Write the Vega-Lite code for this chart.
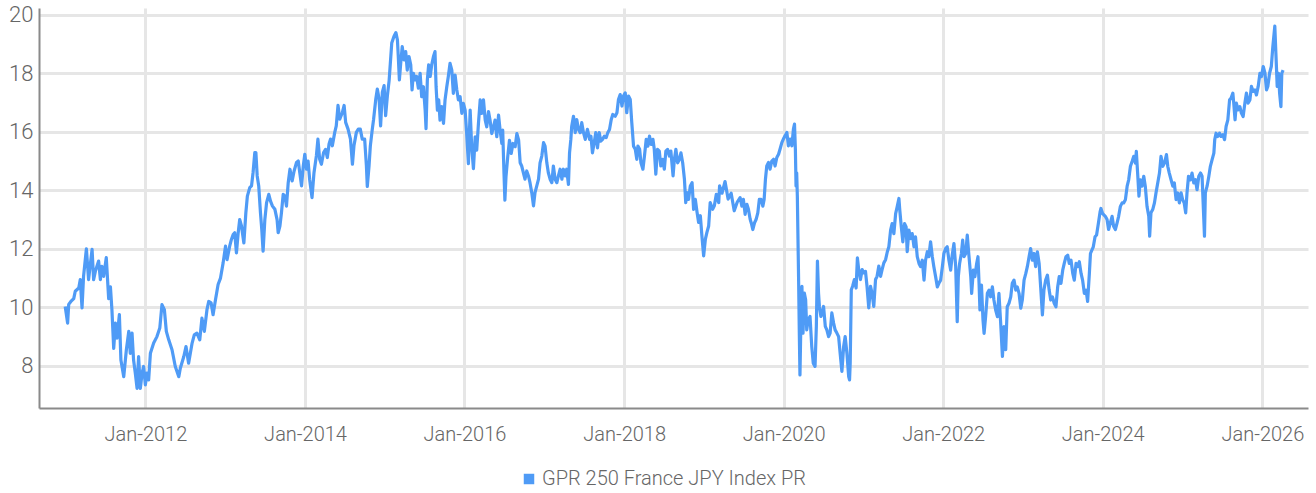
{
"$schema": "https://vega.github.io/schema/vega-lite/v6.json",
"width": 1269,
"height": 400,
"autosize": {"type": "none"},
"padding": {"left": 39, "top": 8, "right": 8, "bottom": 85},
"background": "white",
"config": {"view": {"stroke": null}, "font": "Roboto"},
"data": {"values": [
{"date":"2010-12-30","value":10.03},{"date":"2011-01-10","value":9.46},{"date":"2011-01-15","value":10.1},{"date":"2011-01-25","value":10.2},{"date":"2011-02-07","value":10.3},{"date":"2011-02-14","value":10.55},{"date":"2011-03-02","value":10.66},{"date":"2011-03-09","value":10.95},{"date":"2011-03-17","value":9.98},{"date":"2011-03-24","value":11.06},{"date":"2011-04-06","value":12.0},{"date":"2011-04-16","value":10.95},{"date":"2011-05-02","value":11.98},{"date":"2011-05-09","value":10.95},{"date":"2011-05-17","value":11.23},{"date":"2011-06-01","value":11.58},{"date":"2011-06-09","value":10.95},{"date":"2011-06-16","value":11.4},{"date":"2011-06-24","value":11.06},{"date":"2011-07-06","value":11.7},{"date":"2011-07-17","value":10.3},{"date":"2011-07-25","value":10.7},{"date":"2011-08-01","value":9.9},{"date":"2011-08-09","value":8.6},{"date":"2011-08-17","value":9.46},{"date":"2011-08-24","value":8.95},{"date":"2011-09-04","value":9.75},{"date":"2011-09-11","value":8.2},{"date":"2011-09-24","value":7.63},{"date":"2011-10-06","value":8.55},{"date":"2011-10-17","value":9.18},{"date":"2011-10-24","value":8.43},{"date":"2011-11-01","value":9.12},{"date":"2011-11-08","value":8.2},{"date":"2011-11-16","value":7.75},{"date":"2011-11-24","value":7.23},{"date":"2011-12-01","value":8.32},{"date":"2011-12-09","value":7.23},{"date":"2011-12-17","value":7.75},{"date":"2011-12-24","value":7.98},{"date":"2012-01-01","value":7.35},{"date":"2012-01-08","value":7.75},{"date":"2012-01-16","value":7.52},{"date":"2012-01-24","value":8.43},{"date":"2012-02-08","value":8.78},{"date":"2012-02-23","value":9.0},{"date":"2012-03-07","value":9.29},{"date":"2012-03-17","value":10.09},{"date":"2012-03-28","value":9.92},{"date":"2012-04-06","value":9.18},{"date":"2012-04-17","value":8.89},{"date":"2012-05-02","value":8.55},{"date":"2012-05-17","value":7.98},{"date":"2012-06-02","value":7.63},{"date":"2012-06-09","value":7.92},{"date":"2012-06-25","value":8.32},{"date":"2012-07-05","value":8.66},{"date":"2012-07-17","value":8.09},{"date":"2012-08-02","value":8.78},{"date":"2012-08-12","value":9.06},{"date":"2012-08-24","value":9.12},{"date":"2012-09-06","value":8.89},{"date":"2012-09-16","value":9.63},{"date":"2012-09-27","value":9.18},{"date":"2012-10-09","value":9.92},{"date":"2012-10-17","value":10.2},{"date":"2012-10-28","value":10.15},{"date":"2012-11-06","value":9.75},{"date":"2012-11-17","value":10.26},{"date":"2012-11-29","value":10.78},{"date":"2012-12-10","value":11.0},{"date":"2012-12-22","value":11.52},{"date":"2013-01-02","value":12.09},
{"date":"2013-01-09","value":11.63},{"date":"2013-01-21","value":12.09},{"date":"2013-01-29","value":12.32},{"date":"2013-02-06","value":12.49},{"date":"2013-02-13","value":12.55},{"date":"2013-02-21","value":11.86},{"date":"2013-03-01","value":12.55},{"date":"2013-03-08","value":13.0},{"date":"2013-03-16","value":12.78},{"date":"2013-03-27","value":12.2},{"date":"2013-04-05","value":13.23},{"date":"2013-04-12","value":13.8},{"date":"2013-04-23","value":14.09},{"date":"2013-05-01","value":14.15},{"date":"2013-05-08","value":14.6},{"date":"2013-05-16","value":15.29},{"date":"2013-05-21","value":15.29},{"date":"2013-05-27","value":14.49},{"date":"2013-06-03","value":14.15},{"date":"2013-06-11","value":13.23},{"date":"2013-06-17","value":12.66},{"date":"2013-06-23","value":11.92},{"date":"2013-07-01","value":13.0},{"date":"2013-07-09","value":13.58},{"date":"2013-07-19","value":13.86},{"date":"2013-07-27","value":13.63},{"date":"2013-08-05","value":13.46},{"date":"2013-08-16","value":13.35},{"date":"2013-08-26","value":13.0},{"date":"2013-08-31","value":12.55},{"date":"2013-09-08","value":12.78},{"date":"2013-09-15","value":13.23},{"date":"2013-09-23","value":13.86},{"date":"2013-10-01","value":13.8},{"date":"2013-10-08","value":13.46},{"date":"2013-10-16","value":14.26},{"date":"2013-10-24","value":14.72},{"date":"2013-11-03","value":14.32},{"date":"2013-11-12","value":14.66},{"date":"2013-11-23","value":14.95},{"date":"2013-12-01","value":15.0},{"date":"2013-12-08","value":14.6},{"date":"2013-12-16","value":14.15},{"date":"2013-12-24","value":14.83},{"date":"2013-12-31","value":15.23},{"date":"2014-01-08","value":14.72},{"date":"2014-01-15","value":15.0},{"date":"2014-01-22","value":14.38},{"date":"2014-02-02","value":13.75},{"date":"2014-02-11","value":14.6},{"date":"2014-02-22","value":15.18},{"date":"2014-03-01","value":15.75},{"date":"2014-03-09","value":15.06},{"date":"2014-03-17","value":14.89},{"date":"2014-03-27","value":15.29},{"date":"2014-04-05","value":15.4},{"date":"2014-04-13","value":15.12},{"date":"2014-04-21","value":15.58},{"date":"2014-04-28","value":15.75},{"date":"2014-05-06","value":15.52},{"date":"2014-05-17","value":15.98},{"date":"2014-05-24","value":16.2},{"date":"2014-06-01","value":16.9},{"date":"2014-06-09","value":16.43},{"date":"2014-06-21","value":16.66},{"date":"2014-06-29","value":16.9},{"date":"2014-07-06","value":16.32},{"date":"2014-07-17","value":16.09},{"date":"2014-07-28","value":15.75},{"date":"2014-08-06","value":14.89},{"date":"2014-08-13","value":15.52},{"date":"2014-08-24","value":15.98},{"date":"2014-09-02","value":16.09},{"date":"2014-09-11","value":16.09},{"date":"2014-09-20","value":15.75},{"date":"2014-10-01","value":15.75},{"date":"2014-10-09","value":14.83},{"date":"2014-10-13","value":14.13},{"date":"2014-10-21","value":14.83},{"date":"2014-10-27","value":15.52},{"date":"2014-11-05","value":16.09},{"date":"2014-11-11","value":16.43},{"date":"2014-11-21","value":17.12},{"date":"2014-11-28","value":17.46},{"date":"2014-12-06","value":17.12},{"date":"2014-12-13","value":16.2},{"date":"2014-12-21","value":17.35},{"date":"2014-12-29","value":17.58},{"date":"2015-01-05","value":16.55},{"date":"2015-01-13","value":17.23},{"date":"2015-01-21","value":17.75},
{"date":"2015-02-02","value":19.03},{"date":"2015-02-12","value":19.26},{"date":"2015-02-21","value":19.39},{"date":"2015-02-28","value":19.14},{"date":"2015-03-04","value":18.57},{"date":"2015-03-09","value":17.77},{"date":"2015-03-15","value":18.34},{"date":"2015-03-22","value":18.91},{"date":"2015-03-30","value":18.46},{"date":"2015-04-07","value":18.74},{"date":"2015-04-14","value":18.11},{"date":"2015-04-22","value":18.57},{"date":"2015-04-30","value":18.29},{"date":"2015-05-06","value":17.43},{"date":"2015-05-12","value":18.0},{"date":"2015-05-20","value":17.77},{"date":"2015-05-27","value":17.89},{"date":"2015-06-04","value":17.49},{"date":"2015-06-12","value":18.0},{"date":"2015-06-19","value":17.2},{"date":"2015-06-27","value":17.54},{"date":"2015-07-05","value":16.74},{"date":"2015-07-09","value":16.11},{"date":"2015-07-15","value":17.77},{"date":"2015-07-21","value":18.29},{"date":"2015-07-28","value":17.89},{"date":"2015-08-04","value":18.29},{"date":"2015-08-12","value":18.57},{"date":"2015-08-19","value":18.74},{"date":"2015-08-24","value":17.54},{"date":"2015-08-30","value":16.74},{"date":"2015-09-05","value":17.09},{"date":"2015-09-11","value":16.4},{"date":"2015-09-19","value":16.86},{"date":"2015-09-27","value":16.29},{"date":"2015-10-04","value":17.09},{"date":"2015-10-12","value":17.54},{"date":"2015-10-19","value":17.89},{"date":"2015-10-27","value":18.34},{"date":"2015-11-04","value":18.11},{"date":"2015-11-11","value":17.31},{"date":"2015-11-19","value":17.94},{"date":"2015-11-27","value":17.43},{"date":"2015-12-04","value":17.09},{"date":"2015-12-12","value":17.2},{"date":"2015-12-20","value":16.63},{"date":"2015-12-27","value":16.97},{"date":"2016-01-04","value":16.74},{"date":"2016-01-11","value":15.94},{"date":"2016-01-19","value":14.91},{"date":"2016-01-27","value":16.74},{"date":"2016-02-03","value":15.49},{"date":"2016-02-11","value":14.74},{"date":"2016-02-19","value":15.83},{"date":"2016-02-26","value":15.37},{"date":"2016-03-05","value":16.29},{"date":"2016-03-13","value":17.09},{"date":"2016-03-20","value":16.63},{"date":"2016-03-28","value":17.09},{"date":"2016-04-05","value":16.4},{"date":"2016-04-12","value":16.17},{"date":"2016-04-20","value":16.69},{"date":"2016-04-27","value":16.4},{"date":"2016-05-05","value":15.94},{"date":"2016-05-13","value":16.17},{"date":"2016-05-20","value":16.4},{"date":"2016-05-28","value":15.83},{"date":"2016-06-05","value":16.57},{"date":"2016-06-12","value":16.06},{"date":"2016-06-20","value":15.6},{"date":"2016-06-24","value":16.06},{"date":"2016-06-30","value":14.57},{"date":"2016-07-04","value":13.66},{"date":"2016-07-09","value":14.46},{"date":"2016-07-17","value":15.14},{"date":"2016-07-25","value":15.71},{"date":"2016-08-02","value":15.26},{"date":"2016-08-10","value":15.6},{"date":"2016-08-20","value":15.49},{"date":"2016-08-28","value":15.94},{"date":"2016-09-05","value":15.71},
{"date":"2016-09-12","value":14.94},{"date":"2016-09-19","value":14.83},{"date":"2016-10-04","value":14.38},{"date":"2016-10-12","value":14.66},{"date":"2016-10-20","value":14.49},{"date":"2016-10-27","value":14.26},{"date":"2016-11-04","value":13.92},{"date":"2016-11-12","value":13.47},{"date":"2016-11-19","value":13.92},{"date":"2016-11-27","value":14.15},{"date":"2016-12-05","value":14.38},{"date":"2016-12-12","value":14.94},{"date":"2016-12-20","value":15.17},{"date":"2016-12-28","value":15.63},{"date":"2017-01-04","value":15.51},{"date":"2017-01-12","value":14.94},{"date":"2017-01-19","value":14.6},{"date":"2017-01-27","value":14.38},{"date":"2017-02-04","value":14.26},{"date":"2017-02-11","value":14.83},{"date":"2017-02-19","value":14.38},{"date":"2017-02-27","value":14.26},{"date":"2017-03-06","value":14.49},{"date":"2017-03-14","value":14.72},{"date":"2017-03-22","value":14.38},{"date":"2017-03-29","value":14.72},{"date":"2017-04-06","value":14.49},{"date":"2017-04-13","value":14.72},{"date":"2017-04-21","value":14.2},{"date":"2017-04-26","value":15.28},{"date":"2017-05-02","value":15.74},{"date":"2017-05-06","value":16.19},{"date":"2017-05-14","value":16.53},{"date":"2017-05-22","value":15.97},{"date":"2017-05-29","value":16.42},{"date":"2017-06-06","value":16.08},{"date":"2017-06-14","value":15.97},{"date":"2017-06-21","value":16.31},{"date":"2017-06-29","value":15.97},{"date":"2017-07-07","value":15.74},{"date":"2017-07-17","value":16.08},{"date":"2017-07-27","value":15.74},{"date":"2017-08-02","value":15.85},{"date":"2017-08-09","value":15.28},{"date":"2017-08-17","value":15.63},{"date":"2017-08-24","value":15.97},{"date":"2017-09-01","value":15.45},{"date":"2017-09-09","value":15.97},{"date":"2017-09-16","value":15.68},{"date":"2017-09-24","value":15.74},{"date":"2017-10-02","value":15.85},{"date":"2017-10-11","value":15.8},{"date":"2017-10-18","value":15.97},{"date":"2017-10-26","value":16.08},{"date":"2017-11-03","value":16.42},{"date":"2017-11-10","value":16.59},{"date":"2017-11-21","value":16.53},{"date":"2017-11-29","value":16.65},{"date":"2017-12-06","value":17.1},{"date":"2017-12-14","value":17.27},{"date":"2017-12-22","value":16.88},{"date":"2017-12-29","value":17.22},{"date":"2018-01-06","value":17.33},{"date":"2018-01-13","value":16.65},{"date":"2018-01-21","value":17.22},{"date":"2018-01-29","value":17.1},{"date":"2018-02-05","value":16.31},{"date":"2018-02-13","value":15.51},{"date":"2018-02-21","value":15.4},{"date":"2018-02-28","value":15.06},{"date":"2018-03-05","value":15.51},{"date":"2018-03-13","value":15.4},{"date":"2018-03-19","value":14.94},{"date":"2018-03-28","value":14.72},{"date":"2018-04-04","value":15.17},{"date":"2018-04-12","value":15.74},{"date":"2018-04-20","value":15.51},{"date":"2018-04-27","value":15.85},{"date":"2018-05-05","value":15.57},{"date":"2018-05-13","value":15.74},{"date":"2018-05-19","value":15.4},{"date":"2018-05-26","value":14.55},{"date":"2018-06-03","value":15.4},{"date":"2018-06-11","value":15.34},{"date":"2018-06-18","value":14.83},{"date":"2018-06-26","value":15.06},{"date":"2018-07-04","value":14.72},{"date":"2018-07-11","value":15.34},{"date":"2018-07-19","value":15.4},{"date":"2018-07-27","value":15.17},{"date":"2018-08-03","value":15.34},{"date":"2018-08-13","value":14.49},{"date":"2018-08-19","value":15.06},{"date":"2018-08-26","value":15.4},{"date":"2018-09-03","value":14.94},{"date":"2018-09-11","value":15.06},{"date":"2018-09-18","value":15.28},{"date":"2018-09-26","value":14.94},{"date":"2018-10-04","value":14.38},{"date":"2018-10-10","value":13.58},{"date":"2018-10-16","value":13.92},{"date":"2018-10-23","value":13.69},{"date":"2018-10-31","value":14.15},{"date":"2018-11-08","value":14.26},{"date":"2018-11-15","value":13.35},{"date":"2018-11-23","value":13.69},{"date":"2018-12-01","value":13.24},{"date":"2018-12-08","value":12.9},{"date":"2018-12-16","value":13.13},{"date":"2018-12-23","value":12.44},{"date":"2018-12-31","value":11.76},{"date":"2019-01-08","value":12.33},{"date":"2019-01-15","value":12.56},{"date":"2019-01-23","value":12.78},{"date":"2019-01-30","value":13.58},{"date":"2019-02-10","value":13.35},{"date":"2019-02-18","value":13.47},{"date":"2019-02-27","value":13.86},{"date":"2019-03-10","value":13.58},{"date":"2019-03-14","value":14.15},{"date":"2019-03-25","value":13.9},{"date":"2019-04-08","value":14.3},{"date":"2019-04-22","value":13.7},{"date":"2019-05-06","value":13.9},{"date":"2019-05-20","value":13.3},{"date":"2019-06-03","value":13.6},
{"date":"2019-06-16","value":13.75},{"date":"2019-06-24","value":13.46},{"date":"2019-07-01","value":13.69},{"date":"2019-07-09","value":13.18},{"date":"2019-07-17","value":13.52},{"date":"2019-07-24","value":13.35},{"date":"2019-08-01","value":13.01},{"date":"2019-08-08","value":12.83},{"date":"2019-08-13","value":12.66},{"date":"2019-08-21","value":12.89},{"date":"2019-08-28","value":13.0},{"date":"2019-09-05","value":13.23},{"date":"2019-09-12","value":13.69},{"date":"2019-09-20","value":13.69},{"date":"2019-09-28","value":13.46},{"date":"2019-10-04","value":13.69},{"date":"2019-10-10","value":14.38},{"date":"2019-10-16","value":14.83},{"date":"2019-10-24","value":14.95},{"date":"2019-10-31","value":14.72},{"date":"2019-11-08","value":15.0},{"date":"2019-11-16","value":15.06},{"date":"2019-11-23","value":14.83},{"date":"2019-12-01","value":15.12},{"date":"2019-12-09","value":15.23},{"date":"2019-12-16","value":15.41},{"date":"2019-12-24","value":15.63},{"date":"2019-12-31","value":15.75},{"date":"2020-01-08","value":15.86},{"date":"2020-01-16","value":15.98},{"date":"2020-01-23","value":15.52},{"date":"2020-01-31","value":15.75},{"date":"2020-02-08","value":15.52},{"date":"2020-02-15","value":16.09},{"date":"2020-02-20","value":16.26},{"date":"2020-02-24","value":15.41},{"date":"2020-02-27","value":14.15},{"date":"2020-03-01","value":14.6},{"date":"2020-03-04","value":13.8},{"date":"2020-03-10","value":10.83},{"date":"2020-03-13","value":9.12},{"date":"2020-03-16","value":7.69},{"date":"2020-03-21","value":9.8},{"date":"2020-03-25","value":10.72},{"date":"2020-03-30","value":9.12},{"date":"2020-04-05","value":10.49},{"date":"2020-04-11","value":10.26},{"date":"2020-04-16","value":9.23},{"date":"2020-04-23","value":9.58},{"date":"2020-05-01","value":9.69},{"date":"2020-05-09","value":8.66},{"date":"2020-05-16","value":8.09},{"date":"2020-05-24","value":7.98},{"date":"2020-05-30","value":9.35},{"date":"2020-06-04","value":11.58},{"date":"2020-06-09","value":10.49},{"date":"2020-06-13","value":10.03},{"date":"2020-06-20","value":9.69},{"date":"2020-06-27","value":9.81},{"date":"2020-07-02","value":10.03},{"date":"2020-07-10","value":9.35},{"date":"2020-07-17","value":9.23},{"date":"2020-07-25","value":9.0},{"date":"2020-08-01","value":9.12},{"date":"2020-08-09","value":9.81},{"date":"2020-08-17","value":9.46},{"date":"2020-08-24","value":9.23},{"date":"2020-09-01","value":9.12},{"date":"2020-09-09","value":9.0},{"date":"2020-09-16","value":8.43},{"date":"2020-09-24","value":7.81},{"date":"2020-10-02","value":8.66},{"date":"2020-10-09","value":9.0},{"date":"2020-10-17","value":8.43},{"date":"2020-10-25","value":7.63},{"date":"2020-10-29","value":7.52},{"date":"2020-11-01","value":8.09},{"date":"2020-11-06","value":10.6},{"date":"2020-11-12","value":10.72},{"date":"2020-11-20","value":10.95},{"date":"2020-11-28","value":10.66},{"date":"2020-12-04","value":11.69},{"date":"2020-12-10","value":11.29},{"date":"2020-12-18","value":10.95},{"date":"2020-12-26","value":11.29},{"date":"2021-01-02","value":11.18},{"date":"2021-01-10","value":11.23},{"date":"2021-01-17","value":10.72},{"date":"2021-01-25","value":9.98},{"date":"2021-02-02","value":10.72},{"date":"2021-02-09","value":10.49},{"date":"2021-02-17","value":10.03},{"date":"2021-02-25","value":10.95},{"date":"2021-03-04","value":11.06},{"date":"2021-03-12","value":11.41},{"date":"2021-03-20","value":11.06},{"date":"2021-03-27","value":11.29},{"date":"2021-04-04","value":11.52},{"date":"2021-04-12","value":11.63},
{"date":"2021-04-20","value":11.9},{"date":"2021-04-27","value":12.07},{"date":"2021-05-05","value":12.64},{"date":"2021-05-12","value":12.86},{"date":"2021-05-20","value":12.52},{"date":"2021-05-28","value":13.2},{"date":"2021-06-04","value":13.43},{"date":"2021-06-12","value":13.72},{"date":"2021-06-16","value":13.32},{"date":"2021-06-23","value":12.75},{"date":"2021-06-30","value":12.24},{"date":"2021-07-08","value":12.86},{"date":"2021-07-15","value":12.75},{"date":"2021-07-20","value":11.9},{"date":"2021-07-28","value":12.64},{"date":"2021-08-04","value":12.35},{"date":"2021-08-12","value":12.52},{"date":"2021-08-20","value":12.07},{"date":"2021-08-27","value":12.41},{"date":"2021-09-04","value":11.73},{"date":"2021-09-12","value":11.5},{"date":"2021-09-19","value":11.39},{"date":"2021-09-27","value":11.61},{"date":"2021-10-05","value":10.93},{"date":"2021-10-12","value":11.61},{"date":"2021-10-20","value":11.9},{"date":"2021-10-27","value":11.73},{"date":"2021-11-04","value":12.24},{"date":"2021-11-12","value":11.73},{"date":"2021-11-19","value":11.39},{"date":"2021-11-27","value":11.05},{"date":"2021-12-05","value":10.7},{"date":"2021-12-12","value":10.82},{"date":"2021-12-20","value":10.93},{"date":"2021-12-28","value":11.39},{"date":"2022-01-04","value":11.84},{"date":"2022-01-12","value":12.01},{"date":"2022-01-19","value":12.07},{"date":"2022-01-27","value":11.61},{"date":"2022-02-04","value":11.27},{"date":"2022-02-11","value":11.78},{"date":"2022-02-19","value":12.18},{"date":"2022-02-27","value":11.39},{"date":"2022-03-06","value":9.51},{"date":"2022-03-11","value":11.05},{"date":"2022-03-17","value":11.5},{"date":"2022-03-25","value":11.84},{"date":"2022-03-31","value":12.3},{"date":"2022-04-06","value":11.73},{"date":"2022-04-14","value":11.84},{"date":"2022-04-21","value":12.47},{"date":"2022-04-29","value":11.73},{"date":"2022-05-07","value":11.05},{"date":"2022-05-11","value":10.48},{"date":"2022-05-19","value":11.27},{"date":"2022-05-26","value":11.05},{"date":"2022-06-03","value":11.5},{"date":"2022-06-09","value":11.73},{"date":"2022-06-14","value":10.82},{"date":"2022-06-18","value":9.91},{"date":"2022-06-25","value":10.76},{"date":"2022-07-02","value":9.57},{"date":"2022-07-07","value":9.11},{"date":"2022-07-14","value":9.68},{"date":"2022-07-22","value":10.48},{"date":"2022-07-30","value":10.59},{"date":"2022-08-06","value":10.36},{"date":"2022-08-14","value":10.7},{"date":"2022-08-21","value":10.25},{"date":"2022-08-29","value":9.91},{"date":"2022-09-06","value":9.68},{"date":"2022-09-13","value":10.48},{"date":"2022-09-21","value":9.45},{"date":"2022-09-29","value":8.32},{"date":"2022-10-06","value":9.34},{"date":"2022-10-14","value":8.55},{"date":"2022-10-21","value":10.02},{"date":"2022-10-29","value":10.14},{"date":"2022-11-06","value":10.36},{"date":"2022-11-13","value":10.82},{"date":"2022-11-21","value":10.93},{"date":"2022-11-29","value":10.59},{"date":"2022-12-06","value":10.7},{"date":"2022-12-14","value":10.48},{"date":"2022-12-22","value":9.97},{"date":"2022-12-29","value":10.25},{"date":"2023-01-06","value":10.93},{"date":"2023-01-14","value":11.16},{"date":"2023-01-21","value":11.39},{"date":"2023-01-29","value":11.73},{"date":"2023-02-05","value":12.01},{"date":"2023-02-13","value":11.61},{"date":"2023-02-21","value":11.84},{"date":"2023-02-28","value":11.39},{"date":"2023-03-08","value":11.9},{"date":"2023-03-16","value":11.5},{"date":"2023-03-23","value":10.7},{"date":"2023-03-31","value":9.74},{"date":"2023-04-07","value":10.59},{"date":"2023-04-15","value":10.93},{"date":"2023-04-23","value":11.1},{"date":"2023-05-01","value":10.59},{"date":"2023-05-08","value":10.25},{"date":"2023-05-16","value":10.36},{"date":"2023-05-24","value":10.14},{"date":"2023-06-01","value":10.02},{"date":"2023-06-09","value":10.7},{"date":"2023-06-16","value":11.05},{"date":"2023-06-24","value":10.82},{"date":"2023-07-02","value":11.27},{"date":"2023-07-09","value":11.5},{"date":"2023-07-17","value":11.73},{"date":"2023-07-25","value":11.78},{"date":"2023-08-01","value":11.5},{"date":"2023-08-09","value":11.61},{"date":"2023-08-17","value":11.16},{"date":"2023-08-24","value":10.93},{"date":"2023-09-01","value":11.5},{"date":"2023-09-08","value":11.39},{"date":"2023-09-16","value":11.56},{"date":"2023-09-24","value":11.16},{"date":"2023-10-01","value":10.93},{"date":"2023-10-09","value":10.48},{"date":"2023-10-17","value":10.59},{"date":"2023-10-24","value":10.2},{"date":"2023-11-01","value":11.16},{"date":"2023-11-06","value":11.84},{"date":"2023-11-12","value":11.95},{"date":"2023-11-19","value":12.07},{"date":"2023-11-27","value":12.41},{"date":"2023-12-04","value":12.47},{"date":"2023-12-12","value":12.86},{"date":"2023-12-20","value":13.26},{"date":"2023-12-24","value":13.38},{"date":"2024-01-01","value":13.2},
{"date":"2024-01-13","value":13.11},{"date":"2024-01-21","value":13.0},{"date":"2024-01-28","value":12.66},{"date":"2024-02-05","value":12.89},{"date":"2024-02-13","value":13.11},{"date":"2024-02-20","value":12.77},{"date":"2024-02-28","value":12.66},{"date":"2024-03-07","value":12.89},{"date":"2024-03-14","value":13.11},{"date":"2024-03-22","value":13.45},{"date":"2024-03-30","value":13.57},{"date":"2024-04-06","value":13.57},{"date":"2024-04-14","value":13.68},{"date":"2024-04-22","value":14.14},{"date":"2024-04-29","value":14.36},{"date":"2024-05-07","value":14.82},{"date":"2024-05-15","value":14.99},{"date":"2024-05-22","value":15.16},{"date":"2024-05-30","value":14.93},{"date":"2024-06-03","value":15.33},{"date":"2024-06-09","value":14.59},{"date":"2024-06-15","value":13.8},{"date":"2024-06-21","value":14.36},{"date":"2024-06-29","value":14.14},{"date":"2024-07-07","value":14.48},{"date":"2024-07-14","value":14.14},{"date":"2024-07-22","value":13.45},{"date":"2024-07-30","value":13.11},{"date":"2024-08-03","value":12.43},{"date":"2024-08-09","value":13.23},{"date":"2024-08-17","value":13.34},{"date":"2024-08-25","value":13.57},{"date":"2024-09-01","value":13.91},{"date":"2024-09-09","value":14.25},{"date":"2024-09-17","value":14.59},{"date":"2024-09-24","value":15.16},{"date":"2024-10-02","value":14.82},{"date":"2024-10-10","value":14.93},{"date":"2024-10-19","value":15.22},{"date":"2024-10-25","value":14.82},{"date":"2024-11-01","value":14.59},{"date":"2024-11-09","value":14.36},{"date":"2024-11-17","value":14.14},{"date":"2024-11-24","value":14.25},{"date":"2024-12-02","value":13.68},{"date":"2024-12-10","value":13.91},{"date":"2024-12-17","value":13.57},{"date":"2024-12-25","value":13.91},{"date":"2025-01-01","value":13.68},{"date":"2025-01-08","value":13.57},{"date":"2025-01-15","value":13.23},{"date":"2025-01-21","value":13.91},{"date":"2025-01-28","value":14.48},{"date":"2025-02-06","value":14.36},{"date":"2025-02-13","value":14.59},{"date":"2025-02-21","value":14.25},{"date":"2025-03-01","value":14.36},{"date":"2025-03-08","value":14.02},{"date":"2025-03-16","value":14.48},{"date":"2025-03-24","value":14.59},{"date":"2025-03-31","value":14.48},{"date":"2025-04-08","value":13.0},{"date":"2025-04-11","value":12.43},{"date":"2025-04-15","value":13.91},{"date":"2025-04-23","value":14.14},{"date":"2025-05-01","value":14.48},{"date":"2025-05-08","value":14.82},{"date":"2025-05-16","value":15.05},{"date":"2025-05-24","value":15.27},{"date":"2025-05-28","value":15.73},{"date":"2025-06-03","value":15.95},{"date":"2025-06-11","value":15.84},{"date":"2025-06-19","value":15.95},{"date":"2025-06-26","value":15.84},{"date":"2025-07-04","value":15.9},{"date":"2025-07-12","value":15.73},{"date":"2025-07-19","value":16.18},{"date":"2025-07-27","value":16.41},{"date":"2025-08-04","value":17.09},{"date":"2025-08-11","value":17.15},{"date":"2025-08-19","value":17.32},{"date":"2025-08-23","value":16.98},{"date":"2025-08-29","value":16.41},{"date":"2025-09-04","value":16.98},{"date":"2025-09-12","value":16.75},{"date":"2025-09-20","value":16.86},{"date":"2025-09-27","value":16.64},{"date":"2025-10-05","value":16.52},{"date":"2025-10-13","value":16.98},{"date":"2025-10-20","value":17.32},{"date":"2025-10-28","value":16.98},{"date":"2025-11-05","value":17.09},{"date":"2025-11-12","value":17.55},{"date":"2025-11-20","value":17.38},{"date":"2025-11-28","value":17.43},{"date":"2025-12-05","value":17.26},{"date":"2025-12-13","value":17.55},{"date":"2025-12-21","value":18.0},{"date":"2025-12-28","value":17.89},{"date":"2026-01-05","value":18.23},{"date":"2026-01-13","value":18.0},{"date":"2026-01-20","value":17.43},{"date":"2026-01-26","value":17.55},{"date":"2026-02-03","value":18.0},{"date":"2026-02-11","value":18.23},{"date":"2026-02-18","value":18.91},{"date":"2026-02-27","value":19.61},{"date":"2026-03-04","value":18.68},{"date":"2026-03-10","value":17.55},{"date":"2026-03-16","value":18.0},{"date":"2026-03-21","value":17.32},{"date":"2026-03-27","value":16.86},{"date":"2026-03-31","value":18.0},{"date":"2026-04-06","value":18.11}
]},
"mark": {"type": "line", "strokeWidth": 3.2, "strokeJoin": "round"},
"encoding": {
  "x": {
    "field": "date", "type": "temporal",
    "scale": {"type": "utc", "domain": [{"year": 2010, "month": 9, "date": 1, "utc": true}, {"year": 2026, "month": 7, "date": 29, "utc": true}]},
    "axis": {
      "title": null,
      "values": [{"year": 2012, "month": 1, "date": 1, "utc": true}, {"year": 2014, "month": 1, "date": 1, "utc": true}, {"year": 2016, "month": 1, "date": 1, "utc": true}, {"year": 2018, "month": 1, "date": 1, "utc": true}, {"year": 2020, "month": 1, "date": 1, "utc": true}, {"year": 2022, "month": 1, "date": 1, "utc": true}, {"year": 2024, "month": 1, "date": 1, "utc": true}, {"year": 2026, "month": 1, "date": 1, "utc": true}],
      "format": "%b-%Y",
      "grid": true, "gridColor": "#e6e6e6", "gridWidth": 3,
      "domainColor": "#8a8a8a", "domainWidth": 2,
      "ticks": false,
      "labelFont": "Roboto", "labelFontWeight": 300, "labelFontSize": 20, "labelColor": "#666666",
      "labelPadding": 16, "labelAngle": 0
    }
  },
  "y": {
    "field": "value", "type": "quantitative",
    "scale": {"domain": [6.56, 20.23], "nice": false, "zero": false},
    "axis": {
      "title": null,
      "values": [8, 10, 12, 14, 16, 18, 20],
      "grid": true, "gridColor": "#e6e6e6", "gridWidth": 3,
      "domainColor": "#8a8a8a", "domainWidth": 2,
      "ticks": false,
      "labelFont": "Roboto", "labelFontWeight": 300, "labelFontSize": 22, "labelColor": "#666666",
      "labelPadding": 6
    }
  },
  "color": {
    "datum": "GPR 250 France JPY Index PR",
    "scale": {"range": ["#4f9bf6"]},
    "legend": {
      "title": null, "orient": "none", "legendX": 480, "legendY": 461,
      "symbolType": "square", "symbolSize": 110, "symbolStrokeWidth": 0,
      "labelFont": "Roboto", "labelFontWeight": 300, "labelFontSize": 20, "labelColor": "#666666",
      "labelOffset": 3, "labelLimit": 500,
      "encode": {"symbols": {"update": {"fill": {"value": "#4f9bf6"}, "stroke": {"value": "#4f9bf6"}}}}
    }
  }
}
}
